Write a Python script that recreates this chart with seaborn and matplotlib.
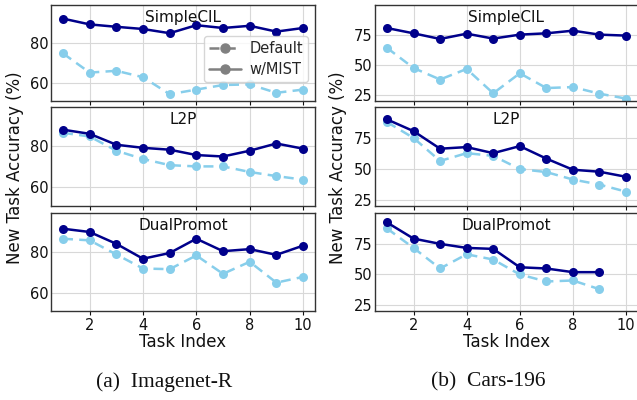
import numpy as np
import pandas as pd
import matplotlib
matplotlib.use("Agg")
import matplotlib.pyplot as plt
import seaborn as sns
from matplotlib.lines import Line2D

sns.set_theme(style="whitegrid")
plt.rcParams['font.family'] = ['DejaVu Sans']

tasks = [1, 2, 3, 4, 5, 6, 7, 8, 9, 10]
methods = ["SimpleCIL", "L2P", "DualPromot"]

# Imagenet-R
inr_simplecil_default = [74.8, 65.2, 66.1, 62.9, 54.4, 56.7, 59.0, 59.3, 55.1, 56.7]
inr_simplecil_mist = [92.2, 89.3, 88.1, 87.0, 84.9, 88.9, 87.5, 88.6, 85.7, 87.5]
inr_l2p_default = [86.5, 84.7, 77.8, 73.8, 70.8, 70.2, 70.2, 67.5, 65.5, 63.8]
inr_l2p_mist = [88.0, 86.0, 80.7, 79.2, 78.3, 75.7, 75.0, 77.8, 81.3, 78.8]
inr_dual_default = [86.4, 85.6, 78.7, 71.8, 71.5, 78.2, 69.2, 75.1, 64.9, 67.7]
inr_dual_mist = [91.3, 89.7, 83.9, 76.6, 79.4, 86.4, 80.3, 81.3, 78.5, 83.0]

# Cars-196
car_simplecil_default = [64.3, 47.5, 37.9, 46.7, 26.4, 43.1, 30.8, 31.6, 26.1, 22.0]
car_simplecil_mist = [80.8, 76.4, 71.7, 76.1, 72.0, 75.3, 76.4, 78.6, 75.3, 74.5]
car_l2p_default = [87.8, 75.0, 56.4, 62.7, 60.5, 49.9, 47.4, 41.4, 37.3, 31.6]
car_l2p_mist = [90.0, 80.5, 66.3, 67.6, 62.7, 68.4, 58.3, 49.3, 47.7, 43.6]
car_dual_default = [87.4, 71.5, 54.7, 66.3, 62.0, 49.8, 44.1, 44.9, 37.8]
car_dual_mist = [92.3, 79.1, 74.8, 71.5, 70.7, 55.7, 54.7, 51.7, 51.7]

xticks = [2, 4, 6, 8, 10]
left_yticks = [60, 80]
right_yticks = [25, 50, 75]
ylabel = "New Task Accuracy (%)"
xlabel = "Task Index"
captions = ["(a)  Imagenet-R", "(b)  Cars-196"]

left_data = [(inr_simplecil_default, inr_simplecil_mist),
             (inr_l2p_default, inr_l2p_mist),
             (inr_dual_default, inr_dual_mist)]
right_data = [(car_simplecil_default, car_simplecil_mist),
              (car_l2p_default, car_l2p_mist),
              (car_dual_default, car_dual_mist)]

C_DEF = "#87CEEB"
C_MIST = "#00008B"

W, H = 637, 400
fig = plt.figure(figsize=(W / 100, H / 100), dpi=100)

rows = [(5, 101), (107, 206), (213, 311)]
cols = [(51, 315), (375, 638)]

def rect(c, r):
    x0, x1 = c
    y0, y1 = r
    return [x0 / W, 1 - y1 / H, (x1 - x0) / W, (y1 - y0) / H]

for ci, (data, yt, ylim) in enumerate([(left_data, left_yticks, (51, 99)),
                                        (right_data, right_yticks, (20, 100))]):
    for ri, (dflt, mist) in enumerate(data):
        ax = fig.add_axes(rect(cols[ci], rows[ri]))
        sns.lineplot(x=tasks[:len(dflt)], y=dflt, ax=ax, color=C_DEF,
                     marker="o", markersize=6.5, markeredgewidth=0,
                     linewidth=1.8, linestyle="--", dashes=False)
        ax.lines[-1].set_dashes([4, 2.5])
        sns.lineplot(x=tasks[:len(mist)], y=mist, ax=ax, color=C_MIST,
                     marker="o", markersize=6.5, markeredgewidth=0,
                     linewidth=1.8)
        ax.set_xlim(0.55, 10.45)
        ax.set_ylim(*ylim)
        ax.set_xticks(xticks)
        ax.set_yticks(yt)
        ax.grid(True, color="#d8d8d8", linewidth=0.8)
        for s in ax.spines.values():
            s.set_color("#333333")
            s.set_linewidth(1.0)
        ax.tick_params(axis="both", labelsize=10.5, colors="#111111",
                       length=3, width=0.8, pad=2)
        ax.tick_params(axis="y", length=0)
        ax.tick_params(axis="x", bottom=True, direction="out")
        ax.text(0.5, 0.87, methods[ri], transform=ax.transAxes,
                ha="center", va="center", fontsize=11, color="#111111")
        if ri < 2:
            ax.set_xticklabels([])
            ax.set_xlabel("")
        else:
            ax.set_xlabel(xlabel, fontsize=12, labelpad=0, color="#111111")
        ax.set_ylabel("")
        if ci == 0 and ri == 0:
            handles = [Line2D([], [], color="gray", marker="o", markersize=6.5,
                              linestyle="--", linewidth=1.8, dashes=[4, 2.5]),
                       Line2D([], [], color="gray", marker="o", markersize=6.5,
                              linewidth=1.8)]
            ax.legend(handles, ["Default", "w/MIST"], loc="lower right",
                      bbox_to_anchor=(0.975, 0.2), borderaxespad=0,
                      fontsize=10.5, handlelength=2.2, borderpad=0.35,
                      labelspacing=0.4, handletextpad=0.6, frameon=True)

fig.text(15 / W, 1 - 168 / H, ylabel, rotation=90, ha="center", va="center",
         fontsize=12, color="#111111")
fig.text(338 / W, 1 - 168 / H, ylabel, rotation=90, ha="center", va="center",
         fontsize=12, color="#111111")
fig.text(164 / W, 1 - 382 / H, captions[0], ha="center", va="center",
         fontsize=15.5, family="Liberation Serif", color="#111111")
fig.text(488 / W, 1 - 382 / H, captions[1], ha="center", va="center",
         fontsize=15.5, family="Liberation Serif", color="#111111")

fig.savefig("out.png", dpi=100)
